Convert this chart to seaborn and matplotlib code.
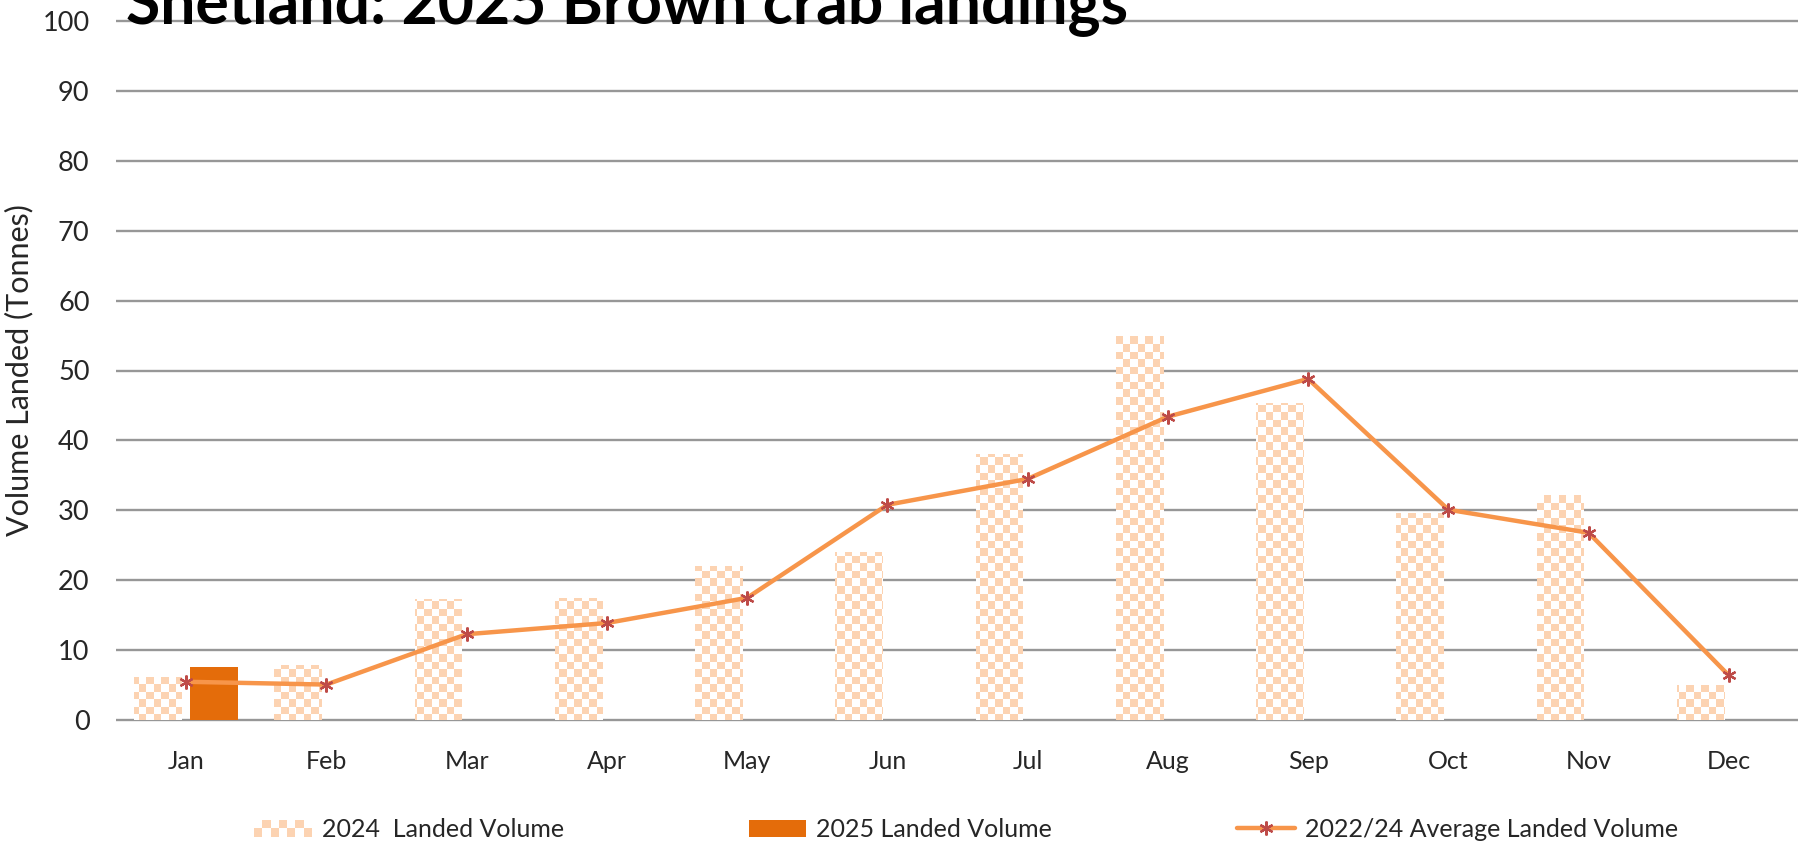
import numpy as np
import pandas as pd
import seaborn as sns
import matplotlib.pyplot as plt
from matplotlib.path import Path
from matplotlib.patches import Rectangle
from matplotlib.lines import Line2D
from matplotlib.legend_handler import HandlerBase

sns.set_theme(style="white")
plt.rcParams['font.family'] = ['Lato', 'DejaVu Sans']

months = ['Jan', 'Feb', 'Mar', 'Apr', 'May', 'Jun', 'Jul', 'Aug', 'Sep', 'Oct', 'Nov', 'Dec']
landed_2024 = [6.2, 7.9, 17.3, 17.5, 22.0, 24.0, 38.0, 55.0, 45.3, 29.6, 32.2, 5.0]
landed_2025 = [7.6] + [np.nan] * 11
avg_2022_24 = [5.5, 5.1, 12.3, 13.9, 17.5, 30.8, 34.5, 43.4, 48.8, 30.1, 26.8, 6.4]
lab_2024 = '2024  Landed Volume'
lab_2025 = '2025 Landed Volume'
lab_avg = '2022/24 Average Landed Volume'

PEACH = '#fcd3b2'
DARK_ORANGE = '#e46c0a'
LINE_ORANGE = '#f7954a'
MARK_RED = '#be4b48'
TEXT = '#262626'
SQ = 7.5  # checker square, px

df = pd.DataFrame({
    'month': months * 2,
    'series': [lab_2024] * 12 + [lab_2025] * 12,
    'value': landed_2024 + landed_2025,
})
df_avg = pd.DataFrame({'month': months, 'value': avg_2022_24})

fig = plt.figure(figsize=(17.99, 8.43), dpi=100)
ax = fig.add_axes([116 / 1799, 121 / 843, 1 - 116 / 1799, 703 / 843])

sns.barplot(data=df, x='month', y='value', hue='series', order=months,
            hue_order=[lab_2024, lab_2025], palette=[PEACH, DARK_ORANGE],
            saturation=1, width=0.8, gap=0.15, legend=False, ax=ax, zorder=3,
            linewidth=0)

sns.pointplot(data=df_avg, x='month', y='value', order=months, color=LINE_ORANGE,
              errorbar=None, markers=(6, 2, 0), linestyles='-', ax=ax)
ln = ax.lines[-1]
ln.set_linewidth(3.2)
ln.set_markersize(10)
ln.set_markeredgecolor(MARK_RED)
ln.set_markerfacecolor(MARK_RED)
ln.set_markeredgewidth(1.6)
ln.set_zorder(5)

ax.set_xlim(-0.5, 11.5)
ax.set_ylim(-0.25, 100.25)

# 2024 bars drawn as a checker pattern clipped to the bars
bars = ax.containers[0]
paths = []
for p in bars:
    p.set_facecolor('none')
    paths.append(p.get_path().transformed(p.get_patch_transform()))
clip = Path.make_compound_path(*paths)
bb = ax.get_window_extent()
nx, ny = int(bb.width / SQ), int(bb.height / SQ)
checker = (np.add.outer(np.arange(ny), np.arange(nx)) % 2).astype(float)
cmap = plt.matplotlib.colors.ListedColormap(['white', PEACH])
im = ax.imshow(checker, cmap=cmap, extent=(*ax.get_xlim(), *ax.get_ylim()),
               origin='lower', aspect='auto', interpolation='nearest', zorder=3)
im.set_clip_path(clip, ax.transData)
ax.set_xlim(-0.5, 11.5)
ax.set_ylim(-0.25, 100.25)

ax.set_yticks(range(0, 101, 10))
ax.yaxis.grid(True, color='#979797', linewidth=1.7)
ax.xaxis.grid(False)
ax.set_axisbelow(True)
sns.despine(ax=ax, left=True, bottom=True)
ax.tick_params(axis='both', length=0, labelcolor=TEXT)
ax.tick_params(axis='y', pad=19, labelsize=19.5)
ax.tick_params(axis='x', pad=20, labelsize=18)
ax.set_xlabel('')
ax.set_ylabel('Volume Landed (Tonnes)', fontsize=22, color=TEXT)
ax.yaxis.set_label_coords(-0.049, 0.5)

fig.text(126 / 1799, 1 - 23 / 843, 'Shetland: 2025 Brown crab landings',
         fontsize=45, fontweight='bold', color='black', va='baseline', zorder=10)


class CheckerHandler(HandlerBase):
    def create_artists(self, legend, orig_handle, xdescent, ydescent,
                       width, height, fontsize, trans):
        cols, rows = 7, 2
        w, h = width / cols, height / rows
        arts = []
        for r in range(rows):
            for c in range(cols):
                if (r + c) % 2 == 0:
                    arts.append(Rectangle((-xdescent + c * w, -ydescent + r * h), w, h,
                                          facecolor=PEACH, edgecolor='none', transform=trans))
        return arts


h2024 = Rectangle((0, 0), 1, 1)
h2025 = Rectangle((0, 0), 1, 1, facecolor=DARK_ORANGE, edgecolor='none')
havg = Line2D([], [], color=LINE_ORANGE, lw=3.2, marker=(6, 2, 0), markersize=10,
              markeredgecolor=MARK_RED, markerfacecolor=MARK_RED, markeredgewidth=1.6)
fig.legend([h2024, h2025, havg], [lab_2024, lab_2025, lab_avg],
           handler_map={h2024: CheckerHandler()},
           loc='center', bbox_to_anchor=(0.537, 0.016), ncol=3, frameon=False,
           fontsize=18, columnspacing=7.4, handlelength=2.3, handleheight=0.65,
           handletextpad=0.4, labelcolor=TEXT)

fig.savefig('out.png', dpi=100)
